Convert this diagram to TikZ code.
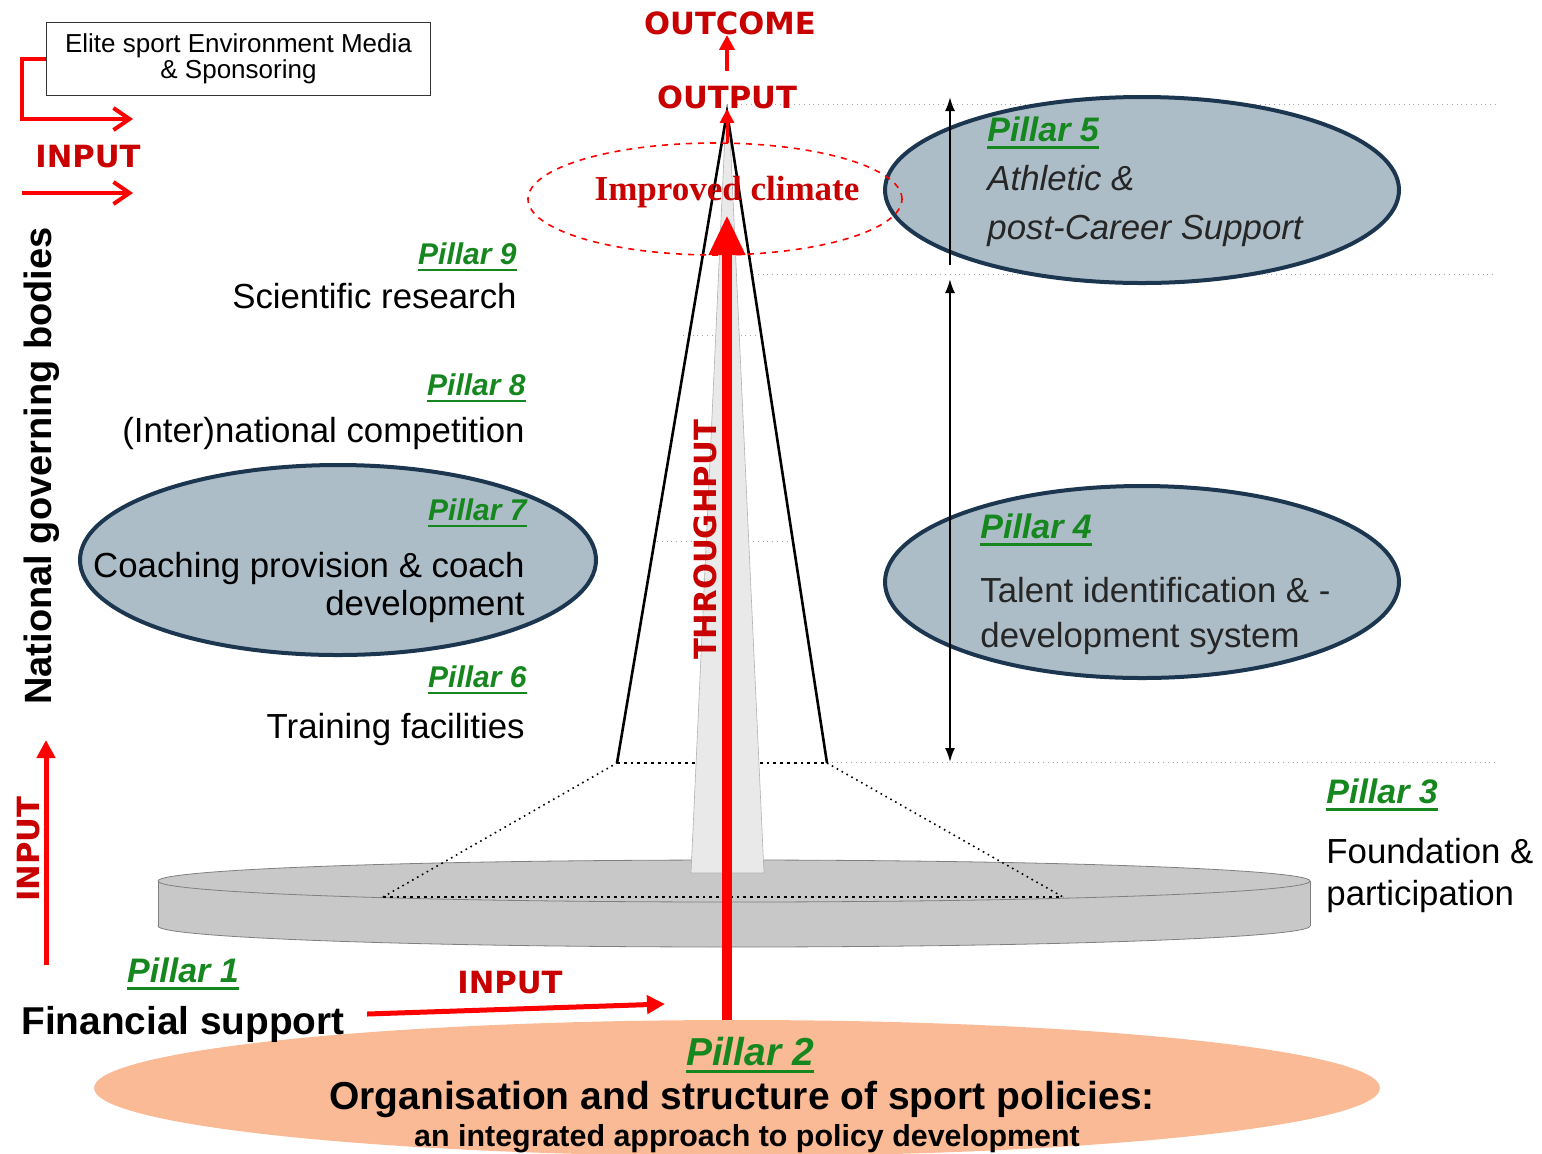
\documentclass[tikz,border=0pt]{standalone}
\usepackage{fontspec}
\setmainfont{Liberation Sans}
\newfontfamily\heavyfont{DejaVu Sans}
\newfontfamily\climatefont{Liberation Serif}
\usetikzlibrary{shapes.geometric,arrows.meta}

\definecolor{pillargreen}{RGB}{22,135,30}
\definecolor{labelred}{RGB}{200,0,0}
\definecolor{arrowred}{RGB}{255,0,0}
\definecolor{ovalblue}{RGB}{173,189,200}
\definecolor{ovalline}{RGB}{28,54,80}
\definecolor{salmon}{RGB}{251,186,150}
\definecolor{discgray}{RGB}{200,200,200}
\definecolor{spiregray}{RGB}{233,233,233}

% thick green underline for the pillar headings
\newcommand{\pillarul}[1]{\setbox0\hbox{#1}\rlap{\color{pillargreen}\rule[-3.5pt]{\wd0}{1.3pt}}\box0}

\tikzset{
  pillar/.style={inner sep=0pt, text=pillargreen, font=\fontsize{15}{15}\selectfont\bfseries\itshape},
  pillarbig/.style={pillar, font=\fontsize{17}{17}\selectfont\bfseries\itshape},
  bodytext/.style={inner sep=0pt, font=\fontsize{17.4}{21}\selectfont},
  redcaps/.style={inner sep=0pt, text=labelred, font=\heavyfont\fontsize{15.3}{15.3}\selectfont\bfseries},
  oval/.style={ellipse, draw=ovalline, line width=2pt, fill=ovalblue, inner sep=0pt},
  guide/.style={gray!70, dotted, line width=0.4pt},
  redarrow/.style={arrowred, line width=2pt},
  sizearrow/.style={black, line width=1pt, >={Latex[length=7pt,width=5pt]}}
}

\begin{document}
\begin{tikzpicture}[x=0.5pt, y=-0.5pt]
        \useasboundingbox (0,0) rectangle (1542,1153);

        % --- guide lines on the right ---
        \foreach \gx/\gy in {727/104, 753/274, 827/762} {
            \draw[guide] (\gx,\gy) -- (1497,\gy);
        }

        % --- pillar 2 base ---
        \node[ellipse, fill=salmon, minimum width=643pt, minimum height=68pt, inner sep=0pt] (p2oval) at (737,1088) {};

        % --- the disc (pillar 3) ---
        \draw[gray, fill=discgray] (734,926) ellipse [x radius=576, y radius=21];
        \fill[discgray] (158,881) rectangle (1310,926);
        \draw[gray] (158,881) -- (158,926) (1310,881) -- (1310,926);
        \draw[gray, fill=discgray] (734,881) ellipse [x radius=576, y radius=21];

        % --- dotted trapezoid ---
        \coordinate (bl) at (383,897);
        \coordinate (br) at (1063,897);
        \coordinate (tl) at (617,763);
        \coordinate (tr) at (827,763);
        \coordinate (apex) at (727,112);
        \draw[dotted, line width=0.8pt] (bl) -- (tl) (tr) -- (br);
        \draw[dotted, line width=1.4pt] (bl) -- (br) (tl) -- (tr);

        % --- levels inside the spire ---
        \draw[guide] (683,335) -- (760,335);
        \draw[guide] (657,541) -- (788,541);

        % --- spire ---
        \draw[gray!60, fill=spiregray, line width=0.3pt] (691,873) -- (764,873) -- (729,112) -- (726,112) -- cycle;
        \draw[line width=1.3pt] (tl) -- (apex) -- (tr);

        % --- blue ovals ---
        \node[oval, minimum width=257pt, minimum height=93pt] (p5oval) at (1142,190) {};
        \node[oval, minimum width=257pt, minimum height=96pt] (p4oval) at (1142,582) {};
        \node[oval, minimum width=258pt, minimum height=95pt] (p7oval) at (338,560) {};

        % --- improved climate ---
        \node[ellipse, draw=arrowred, dashed, line width=0.8pt, minimum width=187pt, minimum height=56pt] (climate) at (715,199) {};
        \node[inner sep=0pt, text=labelred, font=\climatefont\fontsize{17.5}{17.5}\selectfont\bfseries] (climatetxt) at (727,192) {Improved climate};

        % --- throughput ---
        \coordinate (tptip) at (727,215);
        \draw[arrowred, line width=5pt, -{Triangle[length=20pt,width=17pt]}] (p2oval.north -| tptip) -- (tptip);
        \node[redcaps, rotate=90] (thru) at (705,540) {THROUGHPUT};

        % --- output and outcome ---
        \node[redcaps] (output) at (727,97) {OUTPUT};
        \node[redcaps] (outcome) at (730,23) {OUTCOME};
        \coordinate (redtop) at (727,143);
        \draw[arrowred, line width=1.5pt, -{Triangle[length=7pt,width=7pt]}] (redtop) -- (output.south);
        \draw[arrowred, line width=2pt, shorten <=7pt, -{Triangle[length=7.5pt,width=7.5pt]}] (output.north) -- (output.north |- outcome.south);

        % --- ranges on the right ---
        \coordinate (a5top) at (950,97);
        \coordinate (a5bot) at (950,265);
        \coordinate (a4top) at (950,279);
        \coordinate (a4bot) at (950,762);
        \draw[sizearrow, ->] (a5bot) -- (a5top);
        \draw[sizearrow, <->] (a4top) -- (a4bot);

        % --- pillars on the left ---
        \node[pillar, anchor=east] (p9) at (517,257) {\pillarul{Pillar 9}};
        \node[bodytext, anchor=east] (p9txt) at (517,296) {Scientific research};
        \node[pillar, anchor=east] (p8) at (526,388) {\pillarul{Pillar 8}};
        \node[bodytext, anchor=east] (p8txt) at (525,433) {(Inter)national competition};
        \node[pillar, anchor=east] (p7) at (527,513) {\pillarul{Pillar 7}};
        \node[bodytext, anchor=east, align=right, font=\fontsize{17.4}{19}\selectfont] (p7txt) at (525,587) {Coaching provision \& coach\\development};
        \node[pillar, anchor=east] (p6) at (527,680) {\pillarul{Pillar 6}};
        \node[bodytext, anchor=east] (p6txt) at (525,729) {Training facilities};

        % --- pillars on the right ---
        \node[pillarbig, anchor=west] (p5) at (987,133) {\pillarul{Pillar 5}};
        \node[bodytext, anchor=west, align=left, text=black!85, font=\fontsize{17.4}{24.5}\selectfont\itshape] (p5txt) at (987,206) {Athletic \&\\post-Career Support};
        \node[pillarbig, anchor=west] (p4) at (980,530) {\pillarul{Pillar 4}};
        \node[bodytext, anchor=west, align=left, text=black!85, font=\fontsize{17.4}{22.5}\selectfont] (p4txt) at (980,616) {Talent identification \& -\\development system};
        \node[pillarbig, anchor=west] (p3) at (1326,795) {\pillarul{Pillar 3}};
        \node[bodytext, anchor=west, align=left, font=\fontsize{17.4}{21}\selectfont] (p3txt) at (1326,875) {Foundation \&\\participation};

        % --- pillars 1 and 2 ---
        \node[pillarbig] (p1) at (183,974) {\pillarul{Pillar 1}};
        \node[inner sep=0pt, font=\fontsize{19.4}{19.4}\selectfont\bfseries] (finance) at (183,1024) {Financial support};
        \node[redcaps] (inbottom) at (510,983) {INPUT};
        \coordinate (intip) at (665,1004);
        \draw[arrowred, line width=2.5pt, -{Triangle[length=9pt,width=9pt]}] ([shift={(22,-10)}]finance.east) -- (intip);
        \node[pillar, font=\fontsize{19.5}{19.5}\selectfont\bfseries\itshape] (p2) at (750,1055) {\pillarul{Pillar 2}};
        \node[inner sep=0pt, font=\fontsize{19.5}{19.5}\selectfont\bfseries] (p2txt) at (742,1099) {Organisation and structure of sport policies:};
        \node[inner sep=0pt, font=\fontsize{15.2}{15.2}\selectfont\bfseries] (p2sub) at (747,1139) {an integrated approach to policy development};

        % --- national governing bodies ---
        \node[inner sep=0pt, rotate=90, font=\fontsize{19}{19}\selectfont\bfseries] (ngb) at (42,466) {National governing bodies};
        \node[redcaps, rotate=90] (inleft) at (29,849) {INPUT};
        \coordinate (inleftbase) at (46,965);
        \coordinate (inlefttip) at (46,740);
        \draw[arrowred, line width=2.5pt, -{Triangle[length=9pt,width=9pt]}] (inleftbase) -- (inlefttip);

        % --- elite sport environment ---
        \node[draw=black!80, line width=0.6pt, minimum width=192pt, minimum height=36.5pt, align=center, font=\fontsize{13}{13}\selectfont] (elite) at (238.5,59) {Elite sport Environment Media\\\& Sponsoring};
        \coordinate (lturn) at (22,119);
        \coordinate (ltip) at (133,119);
        \draw[redarrow, -{Straight Barb[length=8pt,width=11pt]}] (elite.west) -| (lturn) -- (ltip);
        \node[redcaps] (intop) at (88,157) {INPUT};
        \coordinate (inbase) at (22,193);
        \coordinate (inend) at (133,193);
        \draw[redarrow, -{Straight Barb[length=8pt,width=11pt]}] (inbase) -- (inend);

    \end{tikzpicture}
\end{document}
